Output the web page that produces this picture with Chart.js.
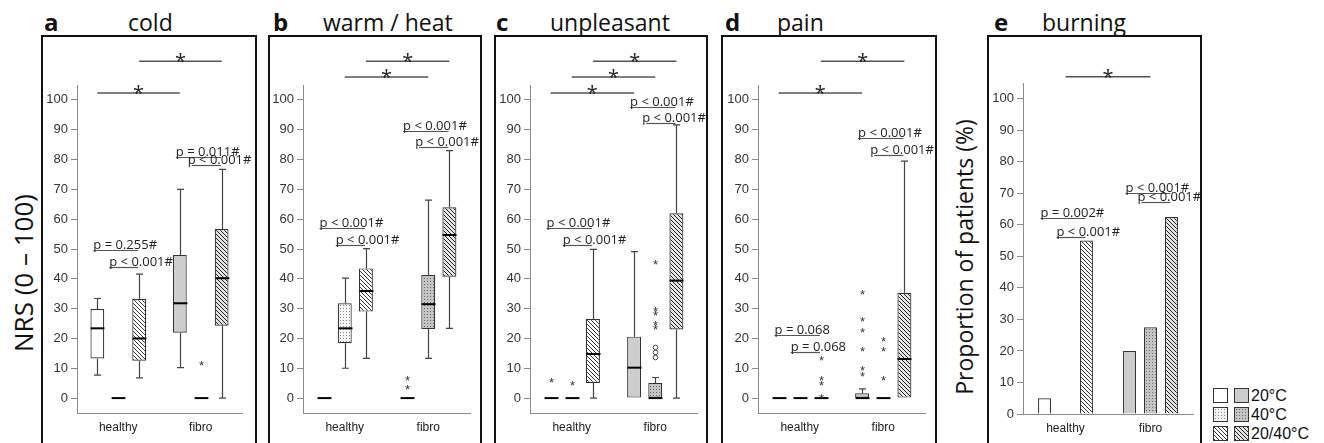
<!DOCTYPE html>
<html lang="en">
<head>
<meta charset="UTF-8">
<title>NRS ratings | thermal stimuli</title>
<script src="https://cdn.jsdelivr.net/npm/chart.js"></script>
<style>
  body { margin: 0; background: #fff; width: 1324px; height: 443px; overflow: hidden; position: relative; font-family: 'Open Sans', sans-serif; color: #111; }
  .frame { position: absolute; top: 35px; height: 430px; border: 2px solid #111; box-sizing: border-box; }
  canvas { position: absolute; top: 37px; }
  .letter { position: absolute; top: 10px; font-size: 24px; font-weight: bold; line-height: 24px; }
  .title { position: absolute; top: 10px; font-size: 23px; line-height: 24px; white-space: nowrap; }
  .ylab { position: absolute; white-space: nowrap; transform: translate(-50%, -50%) rotate(-90deg); }
  .leg { position: absolute; left: 1213px; font-family: 'Liberation Sans', Arial, sans-serif; font-size: 16px; line-height: 15px; }
  .leg span { display: inline-block; width: 15px; height: 15px; border: 1px solid #333; box-sizing: border-box; vertical-align: top; margin-right: 6px; }
  .leg span + span { margin-right: 2px; }
  .leg b { font-weight: normal; vertical-align: top; }
</style>
</head>
<body>

<div class="frame" style="left:41px;width:216px"></div>
<div class="frame" style="left:268px;width:214px"></div>
<div class="frame" style="left:494px;width:214px"></div>
<div class="frame" style="left:721px;width:216px"></div>
<div class="frame" style="left:987px;width:215px"></div>

<div class="letter" style="left:44px">a</div><div class="title" style="left:128px">cold</div>
<div class="letter" style="left:273px">b</div><div class="title" style="left:323px">warm / heat</div>
<div class="letter" style="left:496px">c</div><div class="title" style="left:550px">unpleasant</div>
<div class="letter" style="left:725px">d</div><div class="title" style="left:777px">pain</div>
<div class="letter" style="left:994px">e</div><div class="title" style="left:1042px">burning</div>

<div class="ylab" style="left:23px;top:273px;font-size:26px">NRS (0 – 100)</div>
<div class="ylab" style="left:964px;top:257px;font-size:23px">Proportion of patients (%)</div>

<canvas id="gfA" width="212" height="406" style="left:43px"></canvas>
<canvas id="gfB" width="210" height="406" style="left:270px"></canvas>
<canvas id="gfC" width="210" height="406" style="left:496px"></canvas>
<canvas id="gfD" width="212" height="406" style="left:723px"></canvas>
<canvas id="gfE" width="211" height="406" style="left:989px"></canvas>

<div class="leg" style="top:388px"><span style="background:#fff"></span><span style="background:#cdcdcd"></span><b>20°C</b></div>
<div class="leg" style="top:407px"><span id="lg40a"></span><span id="lg40b"></span><b>40°C</b></div>
<div class="leg" style="top:426px"><span id="lgHa"></span><span id="lgHb"></span><b>20/40°C</b></div>

<script>
  // categories and series (order of boxes: healthy 20, 40, 20/40, fibro 20, 40, 20/40)
  const groups = ['healthy', 'fibro']
  const temps = ['20°C', '40°C', '20/40°C']
  const yTicks = [0, 10, 20, 30, 40, 50, 60, 70, 80, 90, 100]

  // a  cold
  const coldLow = [7.7, 0, 6.8, 10.2, 0, 0]
  const coldQ1 = [13.3, 0, 12.5, 21.9, 0, 24.3]
  const coldMed = [23.4, 0, 20.0, 31.8, 0, 40.2]
  const coldQ3 = [29.9, 0, 33.2, 48.0, 0, 56.7]
  const coldHigh = [33.4, 0, 41.6, 70.0, 0, 76.7]
  const coldStars = [[], [], [], [], [11.8], []]
  const coldCircles = [[], [], [], [], [], []]
  const coldPText = ['p = 0.255#', 'p < 0.001#', 'p = 0.011#', 'p < 0.001#']
  const coldPLevel = [49.7, 44.0, 80.9, 78.2]
  const coldSig = [[0, 102.3], [2, 113]]

  // b  warm / heat
  const warmLow = [0, 10.0, 13.3, 0, 13.3, 23.4]
  const warmQ1 = [0, 18.4, 29.0, 0, 23.2, 40.7]
  const warmMed = [0, 23.4, 35.9, 0, 31.5, 54.7]
  const warmQ3 = [0, 31.8, 43.5, 0, 41.3, 64.0]
  const warmHigh = [0, 40.2, 50.1, 0, 66.4, 83.0]
  const warmStars = [[], [], [], [3.6, 6.6], [], []]
  const warmCircles = [[], [], [], [], [], []]
  const warmPText = ['p < 0.001#', 'p < 0.001#', 'p < 0.001#', 'p < 0.001#']
  const warmPLevel = [57.0, 51.3, 89.6, 84.2]
  const warmSig = [[1, 107.7], [2, 113]]

  // c  unpleasant
  const unplLow = [0, 0, 0, 0, 0, 0]
  const unplQ1 = [0, 0, 5.1, 0, 0, 23.0]
  const unplMed = [0, 0, 14.8, 10.2, 0, 39.4]
  const unplQ3 = [0, 0, 26.5, 20.6, 5.1, 62.0]
  const unplHigh = [0, 0, 49.9, 49.1, 6.9, 91.6]
  const unplStars = [[6.0], [5.0], [], [], [23.7, 25.1, 28.4, 29.8, 45.7], []]
  const unplCircles = [[], [], [], [], [13.6, 15.3, 17.0], []]
  const unplPText = ['p < 0.001#', 'p < 0.001#', 'p < 0.001#', 'p < 0.001#']
  const unplPLevel = [57.0, 51.3, 97.7, 92.3]
  const unplSig = [[0, 102.3], [1, 107.7], [2, 113]]

  // d  pain
  const painLow = [0, 0, 0, 0, 0, 0]
  const painQ1 = [0, 0, 0, 0, 0, 0]
  const painMed = [0, 0, 0, 0, 0, 13.1]
  const painQ3 = [0, 0, 0, 1.6, 0, 35.3]
  const painHigh = [0, 0, 0, 3.1, 0, 79.5]
  const painStars = [[], [], [0.8, 5.1, 6.8, 13.3], [8.0, 10.0, 16.3, 23.0, 26.4, 35.5], [6.6, 16.3, 19.7], []]
  const painCircles = [[], [], [], [], [], []]
  const painPText = ['p = 0.068', 'p = 0.068', 'p < 0.001#', 'p < 0.001#']
  const painPLevel = [21.1, 15.4, 87.2, 81.5]
  const painSig = [[0, 102.3], [2, 113]]

  // e  burning (% of patients)
  const burnPct = [5, 0, 55, 20, 27.5, 62.5]
  const burnPText = ['p = 0.002#', 'p < 0.001#', 'p < 0.001#', 'p < 0.001#']
  const burnPLevel = [62.1, 56.3, 70.0, 67.2]
  const burnSig = [[1, 107]]

  function hatch(bg, fg) {
    const c = document.createElement('canvas')
    c.width = 4; c.height = 4
    const g = c.getContext('2d')
    g.fillStyle = bg; g.fillRect(0, 0, 4, 4)
    g.strokeStyle = fg; g.lineWidth = 1
    g.beginPath()
    for (const o of [-4, 0, 4]) { g.moveTo(o, 0); g.lineTo(o + 4, 4) }
    g.stroke()
    return c
  }
  function dots(bg, fg) {
    const c = document.createElement('canvas')
    c.width = 3; c.height = 3
    const g = c.getContext('2d')
    g.fillStyle = bg; g.fillRect(0, 0, 3, 3)
    g.fillStyle = fg; g.fillRect(1, 1, 1, 1)
    return c
  }
  const tiles = [dots('#f4f4f4', '#8a8a8a'), dots('#c4c4c4', '#6a6a6a'), hatch('#ffffff', '#333'), hatch('#e4e4e4', '#222')]
  const pat = tiles.map(t => document.createElement('canvas').getContext('2d').createPattern(t, 'repeat'))
  const fills = [['#ffffff', '#cdcdcd'], [pat[0], pat[1]], [pat[2], pat[3]]]

  ;[['lg40a', 0], ['lg40b', 1], ['lgHa', 2], ['lgHb', 3]].forEach(function (p) {
    document.getElementById(p[0]).style.background = 'url(' + tiles[p[1]].toDataURL() + ')'
  })

  function drawNotes(chart, n) {
    const ctx = chart.ctx, y = chart.scales.y
    const bar = (j, i) => chart.getDatasetMeta(j).data[i]
    ctx.save()
    ctx.strokeStyle = '#555'
    ctx.fillStyle = '#222'
    // between-group significance
    n.sig.forEach(function (s) {
      const x1 = bar(s[0], 0).x, x2 = bar(s[0], 1).x, py = y.getPixelForValue(s[1])
      ctx.lineWidth = 1.5
      ctx.beginPath(); ctx.moveTo(x1, py); ctx.lineTo(x2, py); ctx.stroke()
      ctx.font = '20px "Open Sans"'
      ctx.textAlign = 'center'
      ctx.fillText('*', (x1 + x2) / 2, py + 7)
    })
    // within-group p values
    ctx.font = '13px "Open Sans"'
    ctx.textAlign = 'left'
    ctx.lineWidth = 1.2
    for (let i = 0; i < 2; i++) {
      for (let k = 0; k < 2; k++) {
        const idx = i * 2 + k
        const x1 = k === 0 ? bar(0, i).x - 4 : bar(1, i).x - 9
        const x2 = bar(2, i).x - 1
        const py = Math.round(y.getPixelForValue(n.level[idx])) + 0.5
        ctx.beginPath(); ctx.moveTo(x1, py); ctx.lineTo(x2, py); ctx.stroke()
        ctx.fillText(n.text[idx], x1 - (k === 1 && i === 1 ? 4 : 0), py - 2)
      }
    }
    ctx.restore()
  }

  const boxMarks = {
    id: 'boxMarks',
    afterDatasetsDraw(chart, args, opts) {
      const st = opts.stats
      if (!st) return
      const ctx = chart.ctx, y = chart.scales.y
      ctx.save()
      for (let j = 0; j < 3; j++) {
        const meta = chart.getDatasetMeta(j)
        for (let i = 0; i < 2; i++) {
          const k = i * 3 + j
          const b = meta.data[i]
          const x = Math.round(b.x) + 0.5, w = b.width
          ctx.strokeStyle = '#444'
          ctx.lineWidth = 1.2
          ;[[st.q3[k], st.high[k]], [st.q1[k], st.low[k]]].forEach(function (pair) {
            if (pair[0] === pair[1]) return
            const a = y.getPixelForValue(pair[0]), e = y.getPixelForValue(pair[1])
            ctx.beginPath(); ctx.moveTo(x, a); ctx.lineTo(x, e)
            ctx.moveTo(x - 3.5, e); ctx.lineTo(x + 3.5, e); ctx.stroke()
          })
          ctx.strokeStyle = '#000'
          ctx.lineWidth = 2
          const m = y.getPixelForValue(st.med[k])
          ctx.beginPath(); ctx.moveTo(x - w / 2, m); ctx.lineTo(x + w / 2, m); ctx.stroke()
          ctx.fillStyle = '#333'
          ctx.font = '13px "Liberation Sans"'
          ctx.textAlign = 'center'
          st.stars[k].forEach(v => ctx.fillText('*', x, y.getPixelForValue(v) + 7))
          ctx.lineWidth = 1
          ctx.strokeStyle = '#444'
          st.circles[k].forEach(function (v) {
            ctx.beginPath(); ctx.arc(x, y.getPixelForValue(v), 2.3, 0, Math.PI * 2); ctx.stroke()
          })
        }
      }
      ctx.restore()
    },
    afterDraw(chart, args, opts) {
      if (opts.notes) drawNotes(chart, opts.notes)
    }
  }
  Chart.register(boxMarks)

  function makeChart(id, datasets, yMin, yMax, geo, plug) {
    return new Chart(document.getElementById(id), {
      type: 'bar',
      data: { labels: groups, datasets: datasets },
      options: {
        responsive: false,
        animation: false,
        layout: { padding: { top: geo.top, right: geo.right, left: 0, bottom: 0 } },
        plugins: { legend: { display: false }, tooltip: { enabled: false }, boxMarks: plug },
        scales: {
          x: {
            grid: { display: false, drawTicks: false },
            border: { display: true, color: '#8a8a8a', width: 1 },
            ticks: { padding: 7, color: '#222', font: { family: 'Liberation Sans', size: 12 } },
            afterFit: s => { s.height = geo.bottom }
          },
          y: {
            min: yMin,
            max: yMax,
            afterBuildTicks: s => { s.ticks = yTicks.map(v => ({ value: v })) },
            grid: { drawOnChartArea: false, drawTicks: true, tickLength: 6, color: '#8a8a8a' },
            border: { display: true, color: '#8a8a8a', width: 1 },
            ticks: { padding: 3, color: '#333', font: { family: 'Liberation Sans', size: 13 } },
            afterFit: s => { s.width = geo.axis }
          }
        }
      }
    })
  }

  function boxSets(q1, q3) {
    return temps.map((t, j) => ({
      label: t,
      data: [[q1[j], q3[j]], [q1[j + 3], q3[j + 3]]],
      backgroundColor: fills[j],
      borderColor: '#333',
      borderWidth: 1.2,
      borderSkipped: false,
      categoryPercentage: 0.76,
      barPercentage: 0.66
    }))
  }

  function boxPanel(id, geo, low, q1, med, q3, high, stars, circles, pText, pLevel, sig) {
    makeChart(id, boxSets(q1, q3), -5, 105, geo, {
      stats: { low: low, q1: q1, med: med, q3: q3, high: high, stars: stars, circles: circles },
      notes: { text: pText, level: pLevel, sig: sig }
    })
  }

  boxPanel('gfA', { axis: 34, right: 13, top: 48, bottom: 30 }, coldLow, coldQ1, coldMed, coldQ3, coldHigh, coldStars, coldCircles, coldPText, coldPLevel, coldSig)
  boxPanel('gfB', { axis: 33, right: 10, top: 48, bottom: 30 }, warmLow, warmQ1, warmMed, warmQ3, warmHigh, warmStars, warmCircles, warmPText, warmPLevel, warmSig)
  boxPanel('gfC', { axis: 34, right: 9, top: 48, bottom: 30 }, unplLow, unplQ1, unplMed, unplQ3, unplHigh, unplStars, unplCircles, unplPText, unplPLevel, unplSig)
  boxPanel('gfD', { axis: 35, right: 10, top: 48, bottom: 30 }, painLow, painQ1, painMed, painQ3, painHigh, painStars, painCircles, painPText, painPLevel, painSig)

  makeChart('gfE', temps.map((t, j) => ({
    label: t,
    data: [burnPct[j], burnPct[j + 3]],
    backgroundColor: fills[j],
    borderColor: '#333',
    borderWidth: 1.2,
    categoryPercentage: 0.74,
    barPercentage: 0.62
  })), 0, 105, { axis: 34, right: 7, top: 46, bottom: 29 }, {
    notes: { text: burnPText, level: burnPLevel, sig: burnSig }
  })
</script>
</body>
</html>
